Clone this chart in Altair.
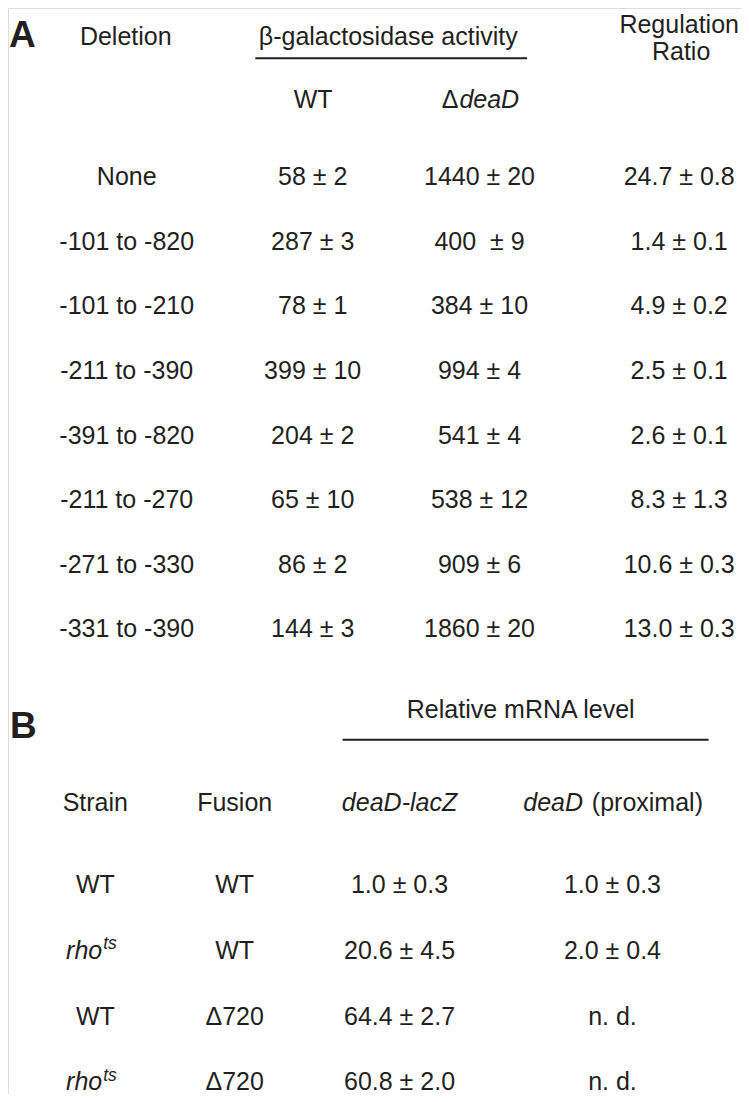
import altair as alt
import pandas as pd

# ---------------- data (panel A) ----------------
deletions = ["None", "-101 to -820", "-101 to -210", "-211 to -390",
             "-391 to -820", "-211 to -270", "-271 to -330", "-331 to -390"]
wt_activity = ["58 ± 2", "287 ± 3", "78 ± 1", "399 ± 10",
               "204 ± 2", "65 ± 10", "86 ± 2", "144 ± 3"]
deaD_activity = ["1440 ± 20", "400\u00a0 ± 9", "384 ± 10", "994 ± 4",
                 "541 ± 4", "538 ± 12", "909 ± 6", "1860 ± 20"]
regulation_ratio = ["24.7 ± 0.8", "1.4 ± 0.1", "4.9 ± 0.2", "2.5 ± 0.1",
                    "2.6 ± 0.1", "8.3 ± 1.3", "10.6 ± 0.3", "13.0 ± 0.3"]

# ---------------- data (panel B) ----------------
strains = ["WT", "rho", "WT", "rho"]
strain_sup = ["", "ts", "", "ts"]
fusions = ["WT", "WT", "Δ720", "Δ720"]
lacz_mrna = ["1.0 ± 0.3", "20.6 ± 4.5", "64.4 ± 2.7", "60.8 ± 2.0"]
proximal_mrna = ["1.0 ± 0.3", "2.0 ± 0.4", "n. d.", "n. d."]

# ---------------- layout (reference pixel coordinates) ----------------
A_COLS = [122, 311.5, 481.5, 685]
A_ROW0, A_STEP = 178, 65.7
B_COLS = [90, 232, 400, 617]
B_ROW0, B_STEP = 898, 66.8
FS = 25
INK = "#231f20"
FONT = "Liberation Sans, Arial, sans-serif"

rows = []  # text, X, Y, layer


def add(text, x, y, layer="c"):
    rows.append({"text": text, "X": x, "Y": y, "layer": layer})


# panel A headers
add("A", 2, 38, "bold")
add("Deletion", 121, 35.5)
add("β-galactosidase activity", 388.5, 35.5)
add("Regulation", 685, 23.5)
add("Ratio", 687, 51)
add("WT", 312, 100)
add("Δ", 460, 100, "r")
add("deaD", 461, 100, "il")

# panel A body
for i, vals in enumerate(zip(deletions, wt_activity, deaD_activity, regulation_ratio)):
    y = A_ROW0 + i * A_STEP
    for cx, v in zip(A_COLS, vals):
        add(v, cx, y)

# panel B headers
add("B", 3, 740, "bold")
add("Relative mRNA level", 523.5, 720)
add("Strain", B_COLS[0], 814)
add("Fusion", B_COLS[1], 814)
add("deaD-lacZ", B_COLS[2], 814, "ic")
add("deaD", 587, 814, "ir")
add("(proximal)", 596, 814, "l")

# panel B body
for i in range(len(strains)):
    y = B_ROW0 + i * B_STEP
    if strain_sup[i]:
        add(strains[i], 97, y, "ir")
        add(strain_sup[i], 98, y - 10, "sup")
    else:
        add(strains[i], B_COLS[0], y)
    add(fusions[i], B_COLS[1], y)
    add(lacz_mrna[i], B_COLS[2], y)
    add(proximal_mrna[i], B_COLS[3], y)

texts = pd.DataFrame(rows)

rules = pd.DataFrame({
    "X": [253, 342], "X2": [530, 715], "Y": [49, 742],
})

xs = alt.Scale(domain=[1, 748], nice=False, zero=False)
ys = alt.Scale(domain=[-2, 1102], nice=False, zero=False, reverse=True)

styles = {
    "c": dict(align="center"),
    "ic": dict(align="center", fontStyle="italic"),
    "r": dict(align="right"),
    "l": dict(align="left"),
    "il": dict(align="left", fontStyle="italic"),
    "ir": dict(align="right", fontStyle="italic"),
    "sup": dict(align="left", fontStyle="italic", fontSize=17.5),
    "bold": dict(align="left", fontWeight="bold", fontSize=37),
}

layers = []
for key, opts in styles.items():
    sub = texts[texts["layer"] == key]
    if sub.empty:
        continue
    kw = dict(baseline="alphabetic", font=FONT, fontSize=FS, color=INK)
    kw.update(opts)
    layers.append(
        alt.Chart(sub).mark_text(**kw).encode(
            x=alt.X("X:Q", scale=xs, axis=None),
            y=alt.Y("Y:Q", scale=ys, axis=None),
            text="text:N",
        )
    )

rule_layer = alt.Chart(rules).mark_rule(color=INK, strokeWidth=2).encode(
    x=alt.X("X:Q", scale=xs, axis=None),
    x2="X2:Q",
    y=alt.Y("Y:Q", scale=ys, axis=None),
)

chart = alt.layer(rule_layer, *layers).properties(
    width=733, height=1086, padding=0,
    autosize=alt.AutoSizeParams(type="none"),
).configure_view(stroke=None).configure(background="white")

chart.save("out.html", embed_options={"renderer": "svg", "actions": False})
